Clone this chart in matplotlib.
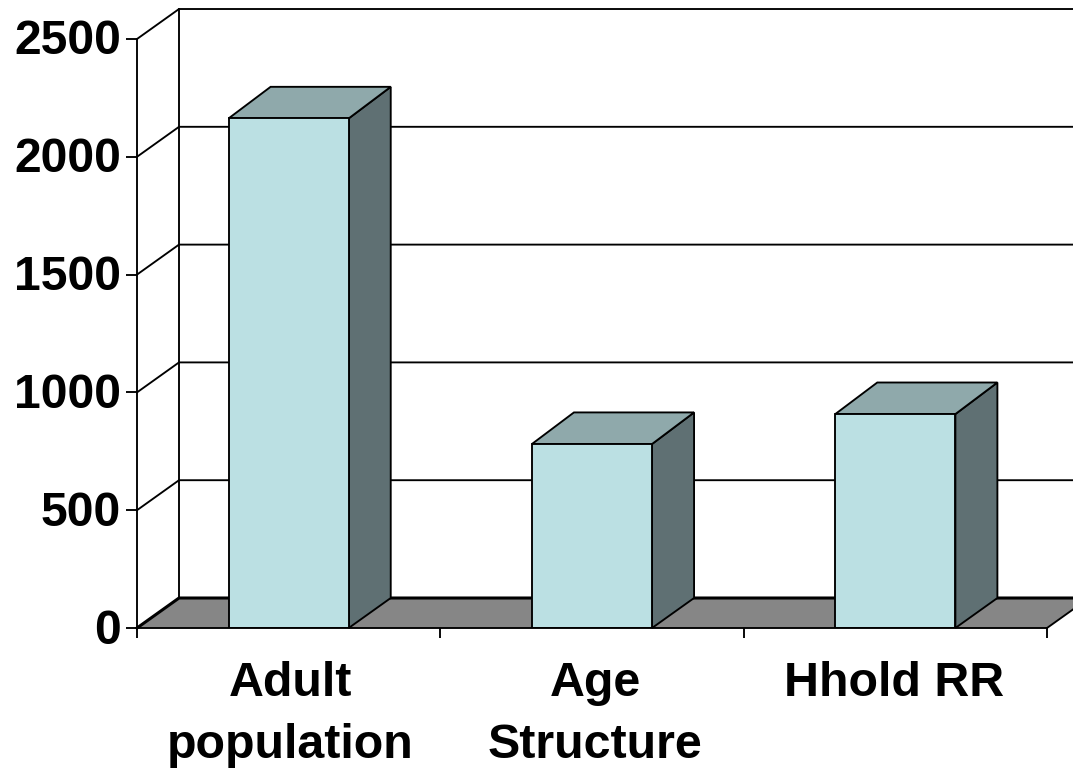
import matplotlib
matplotlib.use('Agg')
import matplotlib.pyplot as plt
from matplotlib.transforms import ScaledTranslation

plt.rcParams['font.family'] = ['Liberation Sans', 'DejaVu Sans']

categorias = ['Adult\npopulation', 'Age\nStructure', 'Hhold RR']
valores = [2163, 781, 908]
ticks_y = [0, 500, 1000, 1500, 2000, 2500]

# fake 3D depth, in data units
DX = 42 / 303.33
DY = 127.3
DY_BAR = 134
LARGURA = 0.396
LW = 1.35

fig = plt.figure(figsize=(10.73, 7.68), dpi=100)
ax = fig.add_axes([137 / 1073, (768 - 628) / 768, 910 / 1073, 589 / 768])
ax.set_xlim(0, 3)
ax.set_ylim(0, 2500)

# floor
ax.fill([0, DX, 3 + DX, 3], [0, DY, DY, 0], color='#868686', lw=0, zorder=1, clip_on=False)
ax.plot([0, DX, 3 + DX], [0, DY, DY], color='black', lw=2.2, zorder=2, clip_on=False)
ax.plot([3, 3 + DX], [0, DY], color='black', lw=LW, zorder=2, clip_on=False)

# walls and gridlines
ax.plot([DX, DX], [DY, 2500 + DY], color='black', lw=LW, zorder=2, clip_on=False)
for v in ticks_y[1:]:
    ax.plot([0, DX, 3 + DX], [v, v + DY, v + DY], color='black', lw=LW, zorder=2, clip_on=False)

# bars
posicoes = [0.5, 1.5, 2.5]
ax.bar(posicoes, valores, width=LARGURA, color='#bbe0e3', edgecolor='black', linewidth=LW, zorder=4)
for x, v in zip(posicoes, valores):
    e = x - LARGURA / 2
    d = x + LARGURA / 2
    ax.fill([d, d + DX, d + DX, d], [0, DY, v + DY_BAR, v], facecolor='#5f7073',
            edgecolor='black', linewidth=LW, zorder=3, clip_on=False)
    ax.fill([e, e + DX, d + DX, d], [v, v + DY_BAR, v + DY_BAR, v], facecolor='#8fa9ab',
            edgecolor='black', linewidth=LW, zorder=3, clip_on=False)

# axes
for lado in ['top', 'right']:
    ax.spines[lado].set_visible(False)
for lado in ['left', 'bottom']:
    ax.spines[lado].set_linewidth(LW)
    ax.spines[lado].set_zorder(5)
ax.set_yticks(ticks_y)
ax.set_xticks([0, 1, 2, 3])
ax.set_xticklabels([])
ax.set_xticks([0.505, 1.51, 2.497], minor=True)
ax.set_xticklabels(categorias, minor=True, fontsize=34.8, fontweight='bold', linespacing=1.48)
ax.tick_params(axis='x', which='major', length=7.5, width=LW)
ax.tick_params(axis='x', which='minor', length=0, pad=24)
ax.tick_params(axis='y', length=8, width=LW, pad=3.5, labelsize=34.7)
sobe = ScaledTranslation(0, 2 / 100, fig.dpi_scale_trans)
for rotulo in ax.get_yticklabels():
    rotulo.set_fontweight('bold')
    rotulo.set_transform(rotulo.get_transform() + sobe)

fig.savefig('out.png', dpi=100)
